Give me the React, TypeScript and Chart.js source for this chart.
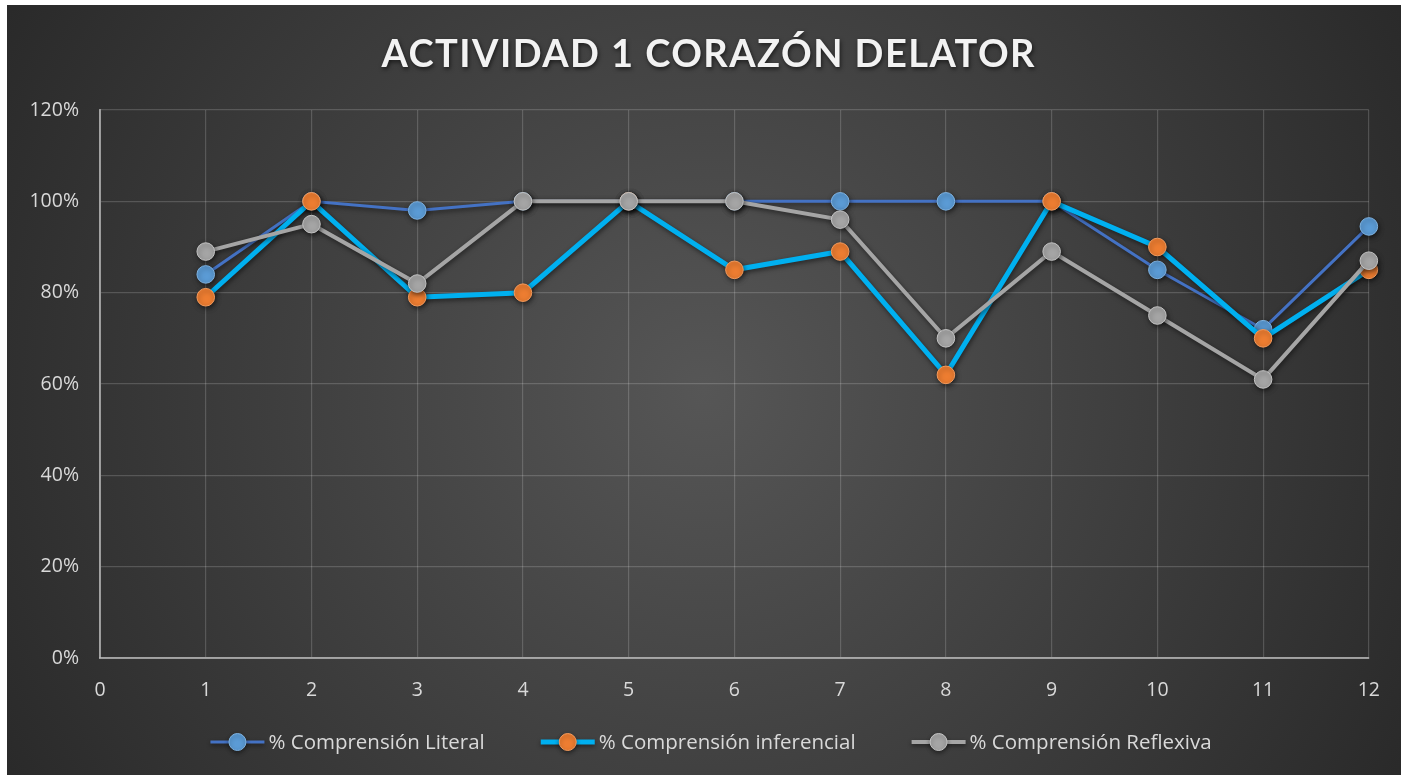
import React, { useEffect, useRef } from "react";
import { Chart, registerables } from "chart.js";

Chart.register(...registerables);

const TITLE = "ACTIVIDAD 1 CORAZÓN DELATOR";
const xValues = [1, 2, 3, 4, 5, 6, 7, 8, 9, 10, 11, 12];
const seriesNames = ["% Comprensión Literal", "% Comprensión inferencial", "% Comprensión Reflexiva"];
const literal = [84, 100, 98, 100, 100, 100, 100, 100, 100, 85, 72, 94.5];
const inferencial = [79, 100, 79, 80, 100, 85, 89, 62, 100, 90, 70, 85];
const reflexiva = [89, 95, 82, 100, 100, 100, 96, 70, 89, 75, 61, 87];

const lineColors = ["#4472C4", "#00B0F0", "#A5A5A5"];
const pointColors = ["#5B9BD5", "#ED7D31", "#A5A5A5"];
const pointBorders = ["#7FB2E0", "#F39A5C", "#C4C4C4"];
const lineWidths = [3, 5, 4];

const LEGEND_FONT = "20.5px 'Open Sans', sans-serif";

export default function App() {
  const ref = useRef<HTMLCanvasElement>(null);
  useEffect(() => {
    const canvas = ref.current!;
    const seriesData = [literal, inferencial, reflexiva];

    const bgPlugin = {
      id: "bgTitle",
      beforeDraw(chart: any) {
        const { ctx, width, height } = chart;
        ctx.save();
        const g = ctx.createRadialGradient(width / 2, height / 2, 0, width / 2, height / 2, width * 0.62);
        g.addColorStop(0, "#565656");
        g.addColorStop(1, "#262626");
        ctx.fillStyle = g;
        ctx.fillRect(0, 0, width, height);
        ctx.restore();
      },
      afterDraw(chart: any) {
        const { ctx, width } = chart;
        // title
        ctx.save();
        ctx.font = "bold 38px Lato, 'Open Sans', sans-serif";
        const n = TITLE.length;
        (ctx as any).letterSpacing = "0px";
        const w = ctx.measureText(TITLE).width;
        const target = 653;
        const sp = Math.max(0, (target - w) / (n - 1));
        (ctx as any).letterSpacing = sp + "px";
        ctx.fillStyle = "#F2F2F2";
        ctx.textAlign = "left";
        ctx.textBaseline = "alphabetic";
        ctx.shadowColor = "rgba(0,0,0,0.6)";
        ctx.shadowBlur = 4;
        ctx.shadowOffsetX = 1;
        ctx.shadowOffsetY = 2;
        const total = w + sp * (n - 1);
        ctx.fillText(TITLE, width / 2 - total / 2 + 4, 62);
        ctx.restore();

        // legend
        ctx.save();
        ctx.font = LEGEND_FONT;
        const iconW = 54;
        const gap = 4;
        const itemGap = 56;
        const widths = seriesNames.map((s) => iconW + gap + ctx.measureText(s).width);
        const totalW = widths.reduce((a, b) => a + b, 0) + itemGap * (seriesNames.length - 1);
        let x = width / 2 + 7 - totalW / 2;
        const cy = 737;
        seriesNames.forEach((name, i) => {
          ctx.save();
          ctx.shadowColor = "rgba(0,0,0,0.45)";
          ctx.shadowBlur = 4;
          ctx.shadowOffsetY = 2;
          ctx.strokeStyle = lineColors[i];
          ctx.lineWidth = lineWidths[i];
          ctx.beginPath();
          ctx.moveTo(x, cy);
          ctx.lineTo(x + iconW, cy);
          ctx.stroke();
          ctx.beginPath();
          ctx.arc(x + iconW / 2, cy, 8.5, 0, Math.PI * 2);
          ctx.fillStyle = pointColors[i];
          ctx.fill();
          ctx.lineWidth = 1;
          ctx.strokeStyle = pointBorders[i];
          ctx.stroke();
          ctx.restore();
          ctx.fillStyle = "#D9D9D9";
          ctx.textAlign = "left";
          ctx.textBaseline = "middle";
          ctx.fillText(name, x + iconW + gap, cy + 1);
          x += widths[i] + itemGap;
        });
        ctx.restore();
      },
      beforeDatasetDraw(chart: any) {
        const ctx = chart.ctx;
        ctx.save();
        ctx.shadowColor = "rgba(0,0,0,0.55)";
        ctx.shadowBlur = 5;
        ctx.shadowOffsetX = 1;
        ctx.shadowOffsetY = 2;
      },
      afterDatasetDraw(chart: any) {
        chart.ctx.restore();
      },
    };

    const datasets = [0, 1, 2].map((i) => ({
      label: seriesNames[i],
      data: xValues.map((x, k) => ({ x, y: seriesData[i][k] })),
      borderColor: lineColors[i],
      backgroundColor: pointColors[i],
      borderWidth: lineWidths[i],
      pointRadius: 8.8,
      pointHoverRadius: 8.8,
      pointBackgroundColor: pointColors[i],
      pointBorderColor: pointBorders[i],
      pointBorderWidth: 1,
      pointStyle: "circle",
      tension: 0,
      clip: false as any,
      order: 2 - i,
    }));

    const chart = new Chart(canvas, {
      type: "line",
      data: { datasets },
      plugins: [bgPlugin],
      options: {
        animation: false,
        responsive: false,
        layout: { padding: { top: 105, left: 23, right: 31, bottom: 67 } },
        plugins: {
          title: { display: false },
          tooltip: { enabled: false },
          legend: { display: false },
        },
        scales: {
          x: {
            type: "linear",
            min: 0,
            max: 12,
            ticks: {
              stepSize: 1,
              color: "#D9D9D9",
              font: { family: "'Open Sans', sans-serif", size: 19.5 },
              padding: 21,
            },
            grid: { color: "rgba(255,255,255,0.17)", lineWidth: 1.2, drawTicks: false },
            border: { color: "rgba(190,190,190,0.75)", width: 2 },
            afterFit: (s: any) => {
              s.height = 50;
            },
          },
          y: {
            type: "linear",
            min: 0,
            max: 120,
            ticks: {
              stepSize: 20,
              color: "#D9D9D9",
              font: { family: "'Open Sans', sans-serif", size: 19.5 },
              padding: 21,
              callback: (v: any) => v + "%",
            },
            grid: { color: "rgba(255,255,255,0.17)", lineWidth: 1.2, drawTicks: false },
            border: { color: "rgba(190,190,190,0.75)", width: 2 },
            afterFit: (s: any) => {
              s.width = 70;
            },
          },
        },
      },
    });
    return () => chart.destroy();
  }, []);

  return (
    <div style={{ position: "fixed", left: 7, top: 5, width: 1394, height: 770 }}>
      <canvas ref={ref} width={1394} height={770} style={{ display: "block" }} />
    </div>
  );
}
